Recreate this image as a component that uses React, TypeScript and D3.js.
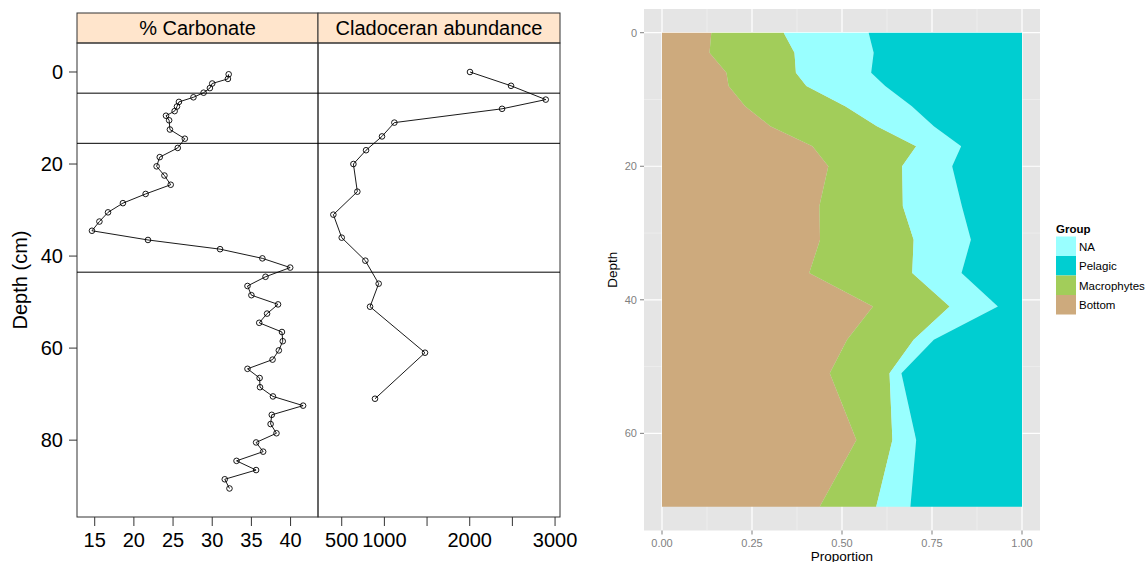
import React from 'react';
import * as d3 from 'd3';

// left: % carbonate profile
const carbDepth = [0.5, 1.5, 2.5, 3.5, 4.5, 5.5, 6.5, 7.5, 8.5, 9.5, 10.5, 12.5, 14.5, 16.5, 18.5, 20.5, 22.5, 24.5, 26.5, 28.5, 30.5, 32.5, 34.5, 36.5, 38.5, 40.5, 42.5, 44.5, 46.5, 48.5, 50.5, 52.5, 54.5, 56.5, 58.5, 60.5, 62.5, 64.5, 66.5, 68.5, 70.5, 72.5, 74.5, 76.5, 78.5, 80.5, 82.5, 84.5, 86.5, 88.5, 90.5];
const carbValue = [32.1, 32.0, 30.0, 29.7, 28.9, 27.6, 25.75, 25.5, 25.2, 24.1, 24.5, 24.6, 26.5, 25.6, 23.3, 22.9, 23.9, 24.7, 21.5, 18.6, 16.7, 15.6, 14.65, 21.8, 31.0, 36.4, 39.95, 36.8, 34.5, 35.0, 38.4, 37.0, 36.0, 38.9, 39.0, 38.5, 37.7, 34.5, 36.05, 36.1, 37.75, 41.6, 37.6, 37.45, 38.2, 35.6, 36.5, 33.1, 35.6, 31.6, 32.2];

// left: cladoceran abundance
const cladDepth = [0, 3, 6, 8, 11, 14, 17, 20, 26, 31, 36, 41, 46, 51, 61, 71];
const cladValue = [2003, 2484, 2891, 2379, 1117, 972, 785, 637, 683, 402, 500, 777, 933, 832, 1476, 890];

const zoneDepths = [4.6, 15.5, 43.5];
const depthTicks = [0, 20, 40, 60, 80];
const carbTicks = [15, 20, 25, 30, 35, 40];
const cladTicks = [500, 1000, 1500, 2000, 2500, 3000];
const cladTickLabels = ['500', '1000', '', '2000', '', '3000'];

// right: proportions per group
const groups = ['Bottom', 'Macrophytes', 'NA', 'Pelagic'];
const groupColors: Record<string, string> = { Bottom: '#CDAA7D', Macrophytes: '#A2CD5A', NA: '#99FFFF', Pelagic: '#00CED1' };
const legendOrder = ['NA', 'Pelagic', 'Macrophytes', 'Bottom'];
const bottomProp = [0.137, 0.132, 0.179, 0.185, 0.231, 0.301, 0.418, 0.462, 0.437, 0.439, 0.409, 0.586, 0.514, 0.466, 0.540, 0.438];
const macroProp = [0.201, 0.236, 0.193, 0.216, 0.278, 0.296, 0.288, 0.205, 0.232, 0.260, 0.286, 0.213, 0.185, 0.166, 0.100, 0.157];
const naProp = [0.236, 0.220, 0.209, 0.219, 0.185, 0.158, 0.125, 0.139, 0.164, 0.159, 0.137, 0.134, 0.056, 0.033, 0.066, 0.095];
const pelagicProp = [0.426, 0.412, 0.419, 0.380, 0.306, 0.245, 0.169, 0.194, 0.167, 0.142, 0.168, 0.067, 0.245, 0.335, 0.294, 0.310];
const propTicks = [0, 0.25, 0.5, 0.75, 1];
const propMinor = [0.125, 0.375, 0.625, 0.875];
const depthTicksR = [0, 20, 40, 60];
const depthMinorR = [10, 30, 50];

const FONT = '"Liberation Sans", Arial, Helvetica, sans-serif';

export default function App() {
  // left (lattice style)
  const top = 43, bottom = 517, left = 77, mid = 318, right = 560;
  const yL = d3.scaleLinear().domain([-6.3, 96.7]).range([top, bottom]);
  const xCarb = d3.scaleLinear().domain([12.74, 43.5]).range([left, mid]);
  const xClad = d3.scaleLinear().domain([222, 3058]).range([mid, right]);
  const carbLine = d3.line<number>().x((d, i) => xCarb(d)).y((d, i) => yL(carbDepth[i]));
  const cladLine = d3.line<number>().x((d, i) => xClad(d)).y((d, i) => yL(cladDepth[i]));

  // right (ggplot style)
  const pL = 644, pR = 1040, pT = 9, pB = 530.5;
  const xP = d3.scaleLinear().domain([-0.05, 1.05]).range([pL, pR]);
  const yD = d3.scaleLinear().domain([-3.55, 74.55]).range([pT, pB]);
  const rows = cladDepth.map((depth, i) => ({
    depth, Bottom: bottomProp[i], Macrophytes: macroProp[i], NA: naProp[i], Pelagic: pelagicProp[i],
  }));
  const series = d3.stack<any>().keys(groups)(rows);
  const area = d3.area<any>()
    .y(d => yD(d.data.depth))
    .x0(d => xP(d[0]))
    .x1(d => xP(d[1]));

  const frame = '#333';
  return (
    <svg width={1145} height={562} style={{ position: 'absolute', left: 0, top: 0, fontFamily: FONT }}>
      <rect width={1145} height={562} fill="#fff" />
      {/* strips */}
      <rect x={left} y={13} width={mid - left} height={top - 13} fill="#FFE5CC" stroke={frame} />
      <rect x={mid} y={13} width={right - mid} height={top - 13} fill="#FFE5CC" stroke={frame} />
      <text x={(left + mid) / 2} y={35} fontSize={20} textAnchor="middle">% Carbonate</text>
      <text x={(mid + right) / 2} y={35} fontSize={20} textAnchor="middle">Cladoceran abundance</text>
      {/* panels */}
      <rect x={left} y={top} width={mid - left} height={bottom - top} fill="none" stroke={frame} />
      <rect x={mid} y={top} width={right - mid} height={bottom - top} fill="none" stroke={frame} />
      {zoneDepths.map(z => (
        <line key={z} x1={left} x2={right} y1={yL(z)} y2={yL(z)} stroke="#000" />
      ))}
      <path d={carbLine(carbValue) || ''} fill="none" stroke="#000" strokeWidth={0.9} />
      {carbValue.map((v, i) => (
        <circle key={i} cx={xCarb(v)} cy={yL(carbDepth[i])} r={2.8} fill="none" stroke="#000" strokeWidth={0.9} />
      ))}
      <path d={cladLine(cladValue) || ''} fill="none" stroke="#000" strokeWidth={0.9} />
      {cladValue.map((v, i) => (
        <circle key={i} cx={xClad(v)} cy={yL(cladDepth[i])} r={2.8} fill="none" stroke="#000" strokeWidth={0.9} />
      ))}
      {/* left y axis */}
      {depthTicks.map(t => (
        <g key={t}>
          <line x1={left - 8} x2={left} y1={yL(t)} y2={yL(t)} stroke={frame} />
          <text x={63} y={yL(t) + 7} fontSize={20} textAnchor="end">{t}</text>
        </g>
      ))}
      <text transform={`translate(27,${(top + bottom) / 2}) rotate(-90)`} fontSize={20} textAnchor="middle">Depth (cm)</text>
      {/* bottom axes */}
      {carbTicks.map(t => (
        <g key={t}>
          <line x1={xCarb(t)} x2={xCarb(t)} y1={bottom} y2={bottom + 9} stroke={frame} />
          <text x={xCarb(t)} y={546.5} fontSize={20} textAnchor="middle">{t}</text>
        </g>
      ))}
      {cladTicks.map((t, i) => (
        <g key={t}>
          <line x1={xClad(t)} x2={xClad(t)} y1={bottom} y2={bottom + 9} stroke={frame} />
          <text x={xClad(t)} y={546.5} fontSize={20} textAnchor="middle">{cladTickLabels[i]}</text>
        </g>
      ))}

      {/* right panel */}
      <rect x={pL} y={pT} width={pR - pL} height={pB - pT} fill="#E5E5E5" />
      {propMinor.map(t => <line key={t} x1={xP(t)} x2={xP(t)} y1={pT} y2={pB} stroke="#F2F2F2" strokeWidth={0.6} />)}
      {depthMinorR.map(t => <line key={t} x1={pL} x2={pR} y1={yD(t)} y2={yD(t)} stroke="#F2F2F2" strokeWidth={0.6} />)}
      {propTicks.map(t => <line key={t} x1={xP(t)} x2={xP(t)} y1={pT} y2={pB} stroke="#fff" strokeWidth={1.2} />)}
      {depthTicksR.map(t => <line key={t} x1={pL} x2={pR} y1={yD(t)} y2={yD(t)} stroke="#fff" strokeWidth={1.2} />)}
      {series.map(s => (
        <path key={s.key} d={area(s) || ''} fill={groupColors[s.key]} />
      ))}
      {depthTicksR.map(t => (
        <g key={t}>
          <line x1={pL - 4} x2={pL} y1={yD(t)} y2={yD(t)} stroke="#7F7F7F" />
          <text x={637} y={yD(t) + 4} fontSize={11} fill="#7F7F7F" textAnchor="end">{t}</text>
        </g>
      ))}
      {propTicks.map(t => (
        <g key={t}>
          <line x1={xP(t)} x2={xP(t)} y1={pB} y2={pB + 4} stroke="#7F7F7F" />
          <text x={xP(t)} y={547} fontSize={11} fill="#7F7F7F" textAnchor="middle">{d3.format('.2f')(t)}</text>
        </g>
      ))}
      <text x={(pL + pR) / 2} y={560.5} fontSize={13.5} textAnchor="middle">Proportion</text>
      <text transform={`translate(617,${(pT + pB) / 2}) rotate(-90)`} fontSize={13.5} textAnchor="middle">Depth</text>
      {/* legend */}
      <text x={1056} y={233} fontSize={11.5} fontWeight="bold">Group</text>
      {legendOrder.map((g, i) => (
        <g key={g}>
          <rect x={1056} y={236.5 + i * 19.5} width={20} height={19.5} fill={groupColors[g]} />
          <text x={1079} y={236.5 + i * 19.5 + 14} fontSize={11.5}>{g}</text>
        </g>
      ))}
    </svg>
  );
}
